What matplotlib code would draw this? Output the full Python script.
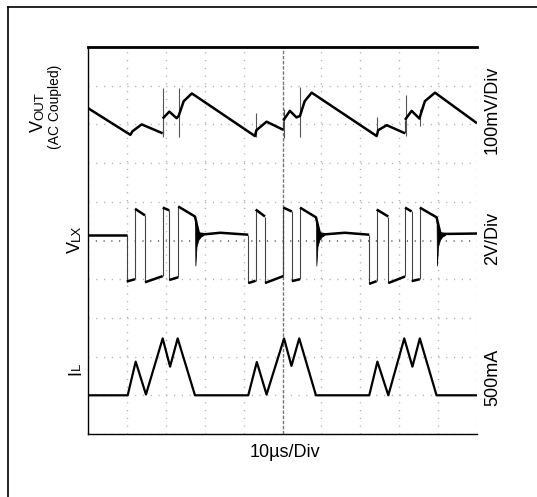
import matplotlib
matplotlib.use('Agg')
import matplotlib.pyplot as plt
from matplotlib.collections import LineCollection
from matplotlib.lines import Line2D

plt.rcParams['font.family'] = ['Liberation Sans', 'DejaVu Sans']
plt.rcParams['lines.scale_dashes'] = False

### Trace data read off the scope shot
# time in us (10us/Div, 10 divisions), amplitude in divisions from the bottom of the screen
vout_t = [0, 10.9, 11.4, 13.8, 19.2, 19.2, 20.9, 22.8, 23.3, 24.6, 26.7,
          42.9, 43.3, 45.9, 50.2, 50.2, 51.9, 53.6, 54.5, 55.7, 57.5,
          74.2, 74.6, 76.8, 81.5, 81.5, 83.2, 85.2, 85.4, 86.6, 89.2, 100]
vout_v = [8.42, 7.73, 7.82, 8.0, 7.77, 8.15, 8.33, 8.16, 8.22, 8.6, 8.8,
          7.70, 7.85, 8.07, 7.86, 8.1, 8.35, 8.18, 8.22, 8.6, 8.82,
          7.70, 7.85, 7.98, 7.77, 8.12, 8.35, 8.15, 8.22, 8.6, 8.82, 8.03]

# switching spikes riding on VOUT: time, low end, high end
spike_t = [19.2, 23.4, 43.1, 50.3, 54.5, 74.4, 81.7, 85.3]
spike_lo = [7.67, 7.68, 7.68, 7.65, 7.68, 7.72, 7.70, 7.95]
spike_hi = [8.94, 8.93, 8.30, 8.40, 8.96, 8.20, 8.76, 8.40]

# VLX switch node: a repeated time is a vertical edge
vlx_t = [0, 9.95, 9.95, 12.08, 12.08, 14.65, 14.65, 19.2, 19.2, 20.9, 20.9, 23.2, 23.2, 27.5,
         28.5, 30.0, 34.0, 41.2, 41.2, 43.1, 43.1, 45.5, 45.5, 50.2, 50.2, 52.4, 52.4, 54.5, 54.5, 58.6,
         59.6, 61.0, 66.0, 72.3, 72.3, 74.2, 74.2, 77.2, 77.2, 81.5, 81.5, 83.2, 83.2, 85.3, 85.3, 89.6,
         90.6, 92.0, 100]
vlx_v = [5.14, 5.14, 3.94, 4.0, 5.82, 5.65, 3.92, 4.08, 5.85, 5.78, 3.98, 4.05, 5.88, 5.62,
         5.18, 5.16, 5.2, 5.15, 3.9, 3.96, 5.8, 5.62, 3.9, 4.08, 5.85, 5.75, 3.95, 4.0, 5.85, 5.6,
         5.18, 5.16, 5.2, 5.15, 3.88, 3.95, 5.8, 5.62, 3.9, 4.07, 5.85, 5.75, 3.95, 4.0, 5.85, 5.6,
         5.18, 5.17, 5.18]

# ringing after each burst (envelope relative to the burst end)
ring_end = [27.5, 58.6, 89.6]
ring_dt = [0, 0.1, 0.4, 0.9, 1.5, 2.2]
ring_hi = [5.62, 5.5, 5.3, 5.22, 5.19, 5.18]
ring_lo = [5.62, 4.35, 4.85, 5.02, 5.1, 5.14]

# inductor current
il_t = [0, 10.2, 12.26, 14.9, 19.2, 21.1, 23.05, 27.5,
        41.2, 43.4, 45.9, 50.4, 52.3, 54.3, 58.6,
        72.3, 74.4, 77.2, 81.3, 83.4, 85.3, 89.6, 100]
il_v = [1.0, 1.0, 1.87, 1.02, 2.47, 1.74, 2.47, 1.0,
        1.0, 1.86, 1.02, 2.47, 1.76, 2.47, 1.0,
        1.0, 1.87, 1.0, 2.47, 1.74, 2.47, 1.0, 1.0]


def split_trace(t, v):
    '''Splits a trace into flat parts and vertical edges (same time twice in a row)'''
    flats, edges = [], []
    cur = [(t[0], v[0])]
    for i in range(1, len(t)):
        if t[i] == t[i - 1]:
            if len(cur) > 1:
                flats.append(cur)
            edges.append([(t[i - 1], v[i - 1]), (t[i], v[i])])
            cur = [(t[i], v[i])]
        else:
            cur.append((t[i], v[i]))
    if len(cur) > 1:
        flats.append(cur)
    return flats, edges


def draw_trace(ax, t, v, lw):
    flats, edges = split_trace(t, v)
    ax.add_collection(LineCollection(flats, colors='black', linewidths=lw, zorder=4))
    ax.add_collection(LineCollection(edges, colors='#444444', linewidths=0.8, zorder=3))


W, H = 537, 497
fig = plt.figure(figsize=(W / 100, H / 100), dpi=100)
ax = fig.add_axes([88 / W, 1 - 434 / H, (477 - 88) / W, (434 - 47) / H])
ax.set_xlim(0, 100)
ax.set_ylim(0, 10)
ax.set_xticks([])
ax.set_yticks([])

# graticule: dotted lines, dots every 0.2 div
dots = (0, (0.8, 4.8))
for i in range(11):
    if i == 5:
        continue
    ax.axvline(i * 10, color='#aaaaaa', lw=1.0, linestyle=dots, dash_capstyle='butt', zorder=1)
    ax.axhline(i, color='#aaaaaa', lw=1.0, linestyle=dots, dash_capstyle='butt', zorder=1)
ax.axvline(50, color='#777777', lw=1.0, linestyle=(0, (2.5, 1.2)), zorder=1)
ax.axhline(5, color='#666666', lw=1.3, linestyle=dots, dash_capstyle='butt', zorder=1)

ax.spines['right'].set_visible(False)
ax.spines['top'].set_linewidth(2.0)
ax.spines['left'].set_linewidth(1.0)
ax.spines['bottom'].set_linewidth(1.0)

# traces
draw_trace(ax, vout_t, vout_v, 1.8)
ax.vlines(spike_t, spike_lo, spike_hi, colors='#555555', linewidths=0.8, zorder=3)
draw_trace(ax, vlx_t, vlx_v, 1.8)
for te in ring_end:
    ax.fill_between([te + d for d in ring_dt], ring_lo, ring_hi, color='black', lw=0.5, zorder=4)
draw_trace(ax, il_t, il_v, 1.6)

# outer frame (runs off the right and bottom of the picture)
fig.add_artist(Line2D([8 / W, 1], [1 - 7 / H, 1 - 7 / H], transform=fig.transFigure, color='black', lw=1.2))
fig.add_artist(Line2D([8 / W, 8 / W], [0, 1 - 7 / H], transform=fig.transFigure, color='black', lw=1.2))


def px(x, y):
    return x / W, 1 - y / H


def sub_label(x, y, main, small):
    '''Rotated label with a smaller small-caps style part, baseline at x, starting at y (pixels)'''
    t = fig.text(*px(x, y), main, rotation=90, rotation_mode='anchor', ha='left', va='baseline', fontsize=13)
    fig.canvas.draw()
    h = t.get_window_extent().height
    fig.text(*px(x, y - h), small, rotation=90, rotation_mode='anchor', ha='left', va='baseline', fontsize=9.5)


sub_label(43, 132, 'V', 'OUT')
fig.text(*px(59, 106.5), '(AC Coupled)', rotation=90, rotation_mode='anchor', ha='center', va='baseline',
         fontsize=10)
sub_label(80, 253, 'V', 'LX')
sub_label(80, 375, 'I', 'L')

fig.text(*px(497, 110), '100mV/Div', rotation=90, rotation_mode='anchor', ha='center', va='baseline', fontsize=13)
fig.text(*px(497, 238), '2V/Div', rotation=90, rotation_mode='anchor', ha='center', va='baseline', fontsize=13)
fig.text(*px(497, 377), '500mA', rotation=90, rotation_mode='anchor', ha='center', va='baseline', fontsize=13)
fig.text(*px(285, 457), '10\u00b5s/Div', ha='center', va='baseline', fontsize=13)

fig.savefig('out.png', dpi=100)
